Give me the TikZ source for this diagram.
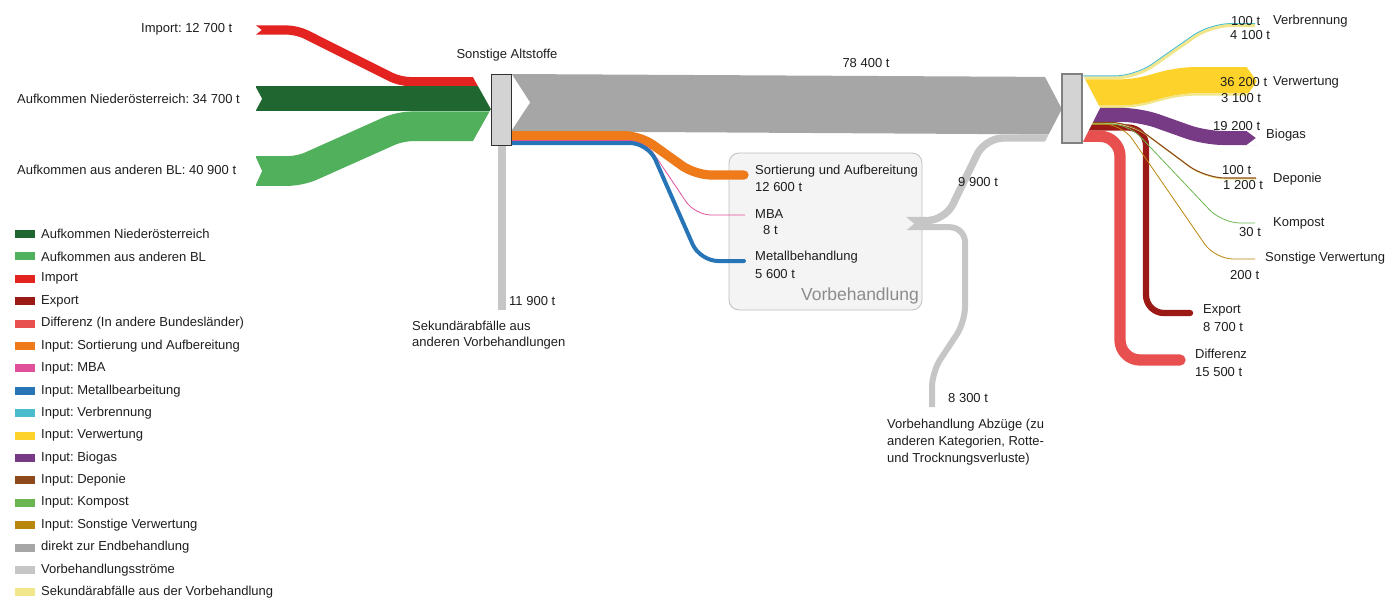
\documentclass[tikz,border=0pt]{standalone}
\usepackage{fontspec}
\setmainfont{Liberation Sans}
\frenchspacing
\definecolor{cNO}{RGB}{31,102,48}
\definecolor{cBL}{RGB}{80,176,92}
\definecolor{cImp}{RGB}{226,35,31}
\definecolor{cExp}{RGB}{155,26,21}
\definecolor{cDiff}{RGB}{232,80,79}
\definecolor{cSort}{RGB}{239,122,26}
\definecolor{cMBA}{RGB}{224,80,154}
\definecolor{cMet}{RGB}{39,117,182}
\definecolor{cVerb}{RGB}{75,188,203}
\definecolor{cVerw}{RGB}{253,210,42}
\definecolor{cBio}{RGB}{119,58,133}
\definecolor{cDep}{RGB}{140,74,28}
\definecolor{cKomp}{RGB}{106,181,79}
\definecolor{cSonst}{RGB}{184,134,11}
\definecolor{cDirekt}{RGB}{166,166,166}
\definecolor{cVorb}{RGB}{198,198,198}
\definecolor{cSek}{RGB}{241,230,140}
\definecolor{boxfill}{RGB}{244,244,244}
\definecolor{boxline}{RGB}{190,190,190}
\definecolor{txt}{RGB}{30,30,30}
\begin{document}
\begin{tikzpicture}[x=1pt,y=-1pt,
  font=\fontsize{13}{15.6}\selectfont\frenchspacing,
  lbl/.style={inner sep=0pt, text=txt},
  lw/.style={lbl, anchor=west},
  lc/.style={lbl, anchor=center},
  nodebox/.style={draw, fill={rgb,255:red,211;green,211;blue,211}, line width=1pt, inner sep=0pt, minimum width=20pt},
  flow/.style={line join=round},
  notch/.style={fill=white}]
\useasboundingbox (0,0) rectangle (1391,600);

% ---------- Vorbehandlung box ----------
\node[draw=boxline, fill=boxfill, rounded corners=10pt, line width=0.8pt, minimum width=193pt, minimum height=157pt, inner sep=0pt] (vorb) at (825.5,231.5) {};
\node[anchor=east, inner sep=0pt, text=black!45, font=\fontsize{17.5}{20}\selectfont] (vorblbl) at (919,296) {Vorbehandlung};

% ---------- inflows ----------
\coordinate (impS) at (256,30);
\coordinate (noS) at (256,98.8);
\coordinate (blS) at (256,171);
\draw[flow, cImp, line width=9.2pt, rounded corners=10pt] (impS) -- (297,30) -- (400,81.6) -- (492,81.6);
\draw[flow, cNO, line width=25.2pt] (noS) -- (492,98.8);
\draw[flow, cBL, line width=29.7pt, rounded corners=12pt] (blS) -- (300,171) -- (400,126.3) -- (492,126.3);
\fill[notch] (255,24.8) -- (261.5,30) -- (255,35.2) -- cycle;
\fill[notch] (255,85.8) -- (262,98.8) -- (255,111.8) -- cycle;
\fill[notch] (255,155.6) -- (262,171) -- (255,186.4) -- cycle;
\fill[notch] (473,76) -- (473,77) -- (491,109.1) -- (492,109.1) -- (492,76) -- cycle;
\fill[notch] (491,109.1) -- (473,141.2) -- (473,143) -- (492,143) -- (492,109.1) -- cycle;

% secondary inflow from below
\coordinate (sekE) at (502,310);
\draw[flow, cVorb, line width=8.7pt] (502,145.5) -- (sekE);

% ---------- main gray band ----------
\fill[cDirekt] (511,74) -- (1062,77) -- (1062,134.5) -- (511,131.2) -- cycle;
\fill[notch] (511,73) -- (530,102.5) -- (511,131.2) -- cycle;

% ---------- Vorbehandlung inputs ----------
\coordinate (sortE) at (744,175);
\coordinate (mbaE) at (745,215);
\coordinate (metE) at (744,261);
\draw[flow, cSort, line width=9.2pt, rounded corners=16pt, line cap=round] (512,135.6) -- (640,135.6) -- (695,175) -- (sortE);
\draw[flow, cMBA, line width=0.8pt, rounded corners=16pt] (512,140.6) -- (645,140.6) -- (695,215) -- (mbaE);
\draw[flow, cMet, line width=4pt, rounded corners=18pt, line cap=round] (512,143) -- (648,143) -- (700,261) -- (metE);

% ---------- Vorbehandlung outputs ----------
\coordinate (vout) at (906,223.6);
\draw[flow, cVorb, line width=7.4pt, rounded corners=18pt] (906,220.6) -- (945,220.6) -- (985,138) -- (1062,138);
\draw[flow, cVorb, line width=6pt, rounded corners=15pt] (906,227.2) -- (965,227.2) -- (965,322) -- (932,372) -- (932,407);
\fill[boxfill] (905.5,216.4) -- (914,223.7) -- (905.5,230.8) -- cycle;
% arrow head into right node
\fill[notch] (1045,72) -- (1045,76.7) -- (1062,109) -- (1063,109) -- (1063,72) -- cycle;
\fill[notch] (1062,109) -- (1045,141.8) -- (1045,144) -- (1063,144) -- (1063,109) -- cycle;

% ---------- right outflows ----------
\draw[flow, cSek, line width=3pt, rounded corners=20pt] (1082,77.8) -- (1136,77.8) -- (1211,25.5) -- (1255,25.5);
\draw[flow, cVerb, line width=0.9pt, rounded corners=20pt] (1082,75.9) -- (1135,75.9) -- (1210,23.6) -- (1255,23.6);
\draw[flow, cVerw, line width=26.3pt, rounded corners=15pt] (1082,92.5) -- (1135,92.5) -- (1180,80.2) -- (1258,80.2);
\draw[flow, cSek, line width=2.3pt, rounded corners=15pt] (1082,106.7) -- (1135,106.7) -- (1180,94.5) -- (1258,94.5);
\fill[notch] (1246,66) -- (1260,66) -- (1260,97) -- (1246,97) -- (1257,81.3) -- cycle;
\draw[flow, cBio, line width=14pt, rounded corners=18pt] (1082,114.9) -- (1140,114.9) -- (1205,138) -- (1258,138);
\fill[notch] (1246,130.5) -- (1259,130.5) -- (1259,145.5) -- (1246,145.5) -- (1256,138) -- cycle;
\draw[flow, cExp, line width=6.3pt, rounded corners=18pt, line cap=round] (1082,127.5) -- (1146,127.5) -- (1146,313) -- (1190,313);
\draw[flow, cDiff, line width=11.3pt, rounded corners=20pt, line cap=round] (1082,136.3) -- (1120,136.3) -- (1120,360) -- (1180,360);
\draw[flow, cSek, line width=1.3pt, rounded corners=20pt] (1082,123.2) -- (1131,123.2) -- (1206,179) -- (1256,179);
\draw[flow, cDep, line width=1.1pt, rounded corners=20pt] (1082,122.3) -- (1130,122.3) -- (1205,178) -- (1256,178);
\draw[flow, cKomp, line width=0.8pt, rounded corners=18pt] (1082,123.7) -- (1128,123.7) -- (1222,223) -- (1255,223);
\draw[flow, cSonst, line width=0.8pt, rounded corners=18pt] (1082,124.1) -- (1122,124.1) -- (1215,259) -- (1255,259);
\fill[notch] (1082,73.5) -- (1100,108) -- (1082,143.5) -- cycle;

% ---------- process nodes ----------
\node[nodebox, draw={rgb,255:red,50;green,50;blue,50}, minimum height=71pt] (sonst) at (501,109.5) {};
\node[nodebox, draw={rgb,255:red,128;green,128;blue,128}, line width=1.2pt, minimum height=69pt] (ziel) at (1072,108.5) {};

% ---------- labels ----------
\node[lw] (limp) at (141,29) {Import: 12 700 t};
\node[lw] (lno) at (17,99) {Aufkommen Niederösterreich: 34 700 t};
\node[lw] (lbl) at (17,170) {Aufkommen aus anderen BL: 40 900 t};
\node[lc] (lsa) at (507,55) {Sonstige Altstoffe};
\node[lc] (l784) at (866,63) {78 400 t};
\node[lw] (lsort) at (755,171) {Sortierung und Aufbereitung};
\node[lw] (lsortv) at (755,187) {12 600 t};
\node[lw] (lmba) at (755,214) {MBA};
\node[lw] (lmbav) at (763,230) {8 t};
\node[lw] (lmet) at (755,257) {Metallbehandlung};
\node[lw] (lmetv) at (755,274) {5 600 t};
\node[lw] (l99) at (958,182) {9 900 t};
\node[lw] (l119) at (509,301) {11 900 t};
\node[lw] (lsek1) at (412,326) {Sekundärabfälle aus};
\node[lw] (lsek2) at (412,343) {anderen Vorbehandlungen};
\node[lw] (l83) at (948,398) {8 300 t};
\node[lw] (labz1) at (887,425) {Vorbehandlung Abzüge (zu};
\node[lw] (labz2) at (887,442) {anderen Kategorien, Rotte-};
\node[lw] (labz3) at (887,459) {und Trocknungsverluste)};

\node[lw] (lverbA) at (1231,21) {100 t};
\node[lw] (lverbB) at (1230,35) {4 100 t};
\node[lw] (lverb) at (1273,21) {Verbrennung};
\node[lw] (lverwA) at (1220,82) {36 200 t};
\node[lw] (lverw) at (1273,82) {Verwertung};
\node[lw] (lverwB) at (1221,98) {3 100 t};
\node[lw] (lbioA) at (1213,126) {19 200 t};
\node[lw] (lbio) at (1266,135) {Biogas};
\node[lw] (ldepA) at (1222,170) {100 t};
\node[lw] (ldepB) at (1223,185) {1 200 t};
\node[lw] (ldep) at (1273,179) {Deponie};
\node[lw] (lkomp) at (1273,223) {Kompost};
\node[lw] (lkompA) at (1239,232) {30 t};
\node[lw] (lsonst) at (1265,258) {Sonstige Verwertung};
\node[lw] (lsonstA) at (1230,275) {200 t};
\node[lw] (lexp) at (1203,310) {Export};
\node[lw] (lexpA) at (1203,327) {8 700 t};
\node[lw] (ldiff) at (1195,354) {Differenz};
\node[lw] (ldiffA) at (1195,372) {15 500 t};

% ---------- legend ----------
\foreach \c/\t [count=\i from 0] in {
  cNO/Aufkommen Niederösterreich,
  cBL/Aufkommen aus anderen BL,
  cImp/Import,
  cExp/Export,
  cDiff/Differenz (In andere Bundesländer),
  cSort/Input: Sortierung und Aufbereitung,
  cMBA/Input: MBA,
  cMet/Input: Metallbearbeitung,
  cVerb/Input: Verbrennung,
  cVerw/Input: Verwertung,
  cBio/Input: Biogas,
  cDep/Input: Deponie,
  cKomp/Input: Kompost,
  cSonst/Input: Sonstige Verwertung,
  cDirekt/direkt zur Endbehandlung,
  cVorb/Vorbehandlungsströme,
  cSek/Sekundärabfälle aus der Vorbehandlung} {
  \fill[\c] (15,{230+22.4*\i}) rectangle ++(20,8);
  \node[lw] (leg\i) at (41,{234+22.4*\i}) {\t};
}
\end{tikzpicture}
\end{document}
